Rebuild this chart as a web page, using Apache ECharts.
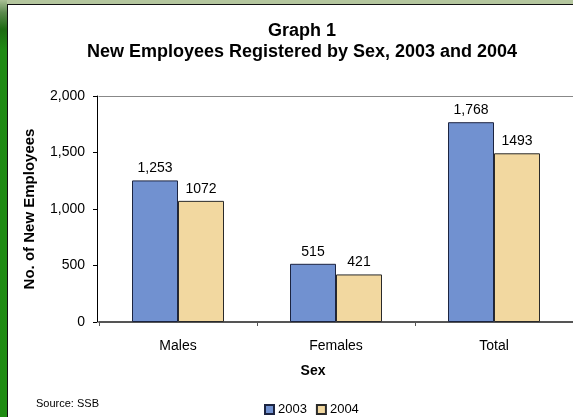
<!DOCTYPE html>
<html>
<head>
<meta charset="utf-8">
<script src="https://cdn.jsdelivr.net/npm/echarts@6/dist/echarts.min.js"></script>
<style>
html,body{margin:0;padding:0;background:#fff;}
#chart{width:573px;height:417px;}
</style>
</head>
<body>
<div id="chart"></div>
<script>
var categories = ['Males', 'Females', 'Total'];
var values2003 = [1253, 515, 1768];
var values2004 = [1072, 421, 1493];
var seriesNames = ['2003', '2004'];
var yTicks = { min: 0, max: 2000, interval: 500 };

var FONT = '"Liberation Sans", Arial, sans-serif';
var chart = echarts.init(document.getElementById('chart'), null, { renderer: 'canvas' });

chart.setOption({
  backgroundColor: '#ffffff',
  animation: false,
  textStyle: { fontFamily: FONT, color: '#000' },
  graphic: [
    { type: 'rect', shape: { x: 0, y: 0, width: 573, height: 4 }, style: { fill: '#b4c69e' }, silent: true, z: -10 },
    { type: 'rect', shape: { x: 0, y: 0, width: 7, height: 417 },
      style: { fill: new echarts.graphic.LinearGradient(0, 0, 0, 1, [
        { offset: 0, color: '#a9bf95' }, { offset: 0.03, color: '#5c8a4e' },
        { offset: 0.07, color: '#1d6a12' }, { offset: 0.12, color: '#1f8a14' }, { offset: 1, color: '#1f8c12' }]) },
      silent: true, z: -10 },
    { type: 'line', shape: { x1: 7.5, y1: 4, x2: 7.5, y2: 417 }, style: { stroke: '#111', lineWidth: 1 }, silent: true },
    { type: 'line', shape: { x1: 7, y1: 4.5, x2: 573, y2: 4.5 }, style: { stroke: '#111', lineWidth: 1 }, silent: true }
  ],
  title: [
    { text: 'Graph 1\nNew Employees Registered by Sex, 2003 and 2004', left: 297, top: 16, textAlign: 'center',
      textStyle: { fontFamily: FONT, fontSize: 18, fontWeight: 'bold', color: '#000', lineHeight: 21 } },
    { text: 'Sex', left: 308, top: 359, textAlign: 'center',
      textStyle: { fontFamily: FONT, fontSize: 14, fontWeight: 'bold', color: '#000' } },
    { text: 'Source: SSB', left: 31, top: 393,
      textStyle: { fontFamily: FONT, fontSize: 11, fontWeight: 'normal', color: '#000' } }
  ],
  legend: {
    data: seriesNames,
    left: 259, top: 398,
    itemWidth: 9, itemHeight: 9, itemGap: 9,
    icon: 'rect',
    textStyle: { fontFamily: FONT, fontSize: 13, color: '#000', padding: [0, 0, 0, -1] }
  },
  grid: { left: 99, top: 96, width: 477, height: 226, containLabel: false },
  xAxis: [
    { type: 'category', data: categories, position: 'bottom',
      axisLine: { lineStyle: { color: '#555', width: 2 } },
      axisTick: { show: true, length: 4, lineStyle: { color: '#555' } },
      axisLabel: { margin: 17, fontFamily: FONT, fontSize: 14, color: '#000' } },
    { type: 'category', data: categories, position: 'top',
      axisLine: { show: true, lineStyle: { color: '#888', width: 1 } },
      axisTick: { show: false }, axisLabel: { show: false } }
  ],
  yAxis: {
    type: 'value', min: yTicks.min, max: yTicks.max, interval: yTicks.interval,
    offset: 2,
    name: 'No. of New Employees', nameLocation: 'middle', nameGap: 60, nameRotate: 90,
    nameTextStyle: { fontFamily: FONT, fontSize: 15, fontWeight: 'bold', color: '#000' },
    axisLine: { show: true, lineStyle: { color: '#000', width: 1 } },
    axisTick: { show: true, length: 4, lineStyle: { color: '#000' } },
    splitLine: { show: false },
    axisLabel: { margin: 12, fontFamily: FONT, fontSize: 14, color: '#000',
      formatter: function (v) { return v.toLocaleString('en-US'); } }
  },
  series: [
    { name: seriesNames[0], type: 'bar', data: values2003, barWidth: 46, barGap: '0%',
      itemStyle: { color: '#7191d0', borderColor: '#1c2440', borderWidth: 1 },
      label: { show: true, position: 'top', distance: 5, fontFamily: FONT, fontSize: 14, color: '#000',
        formatter: function (p) { return p.value.toLocaleString('en-US'); } } },
    { name: seriesNames[1], type: 'bar', data: values2004, barWidth: 46, barGap: '0%',
      itemStyle: { color: '#f2d8a0', borderColor: '#2a2a2a', borderWidth: 1 },
      label: { show: true, position: 'top', distance: 5, fontFamily: FONT, fontSize: 14, color: '#000',
        formatter: function (p) { return String(p.value); } } }
  ]
});
</script>
</body>
</html>
